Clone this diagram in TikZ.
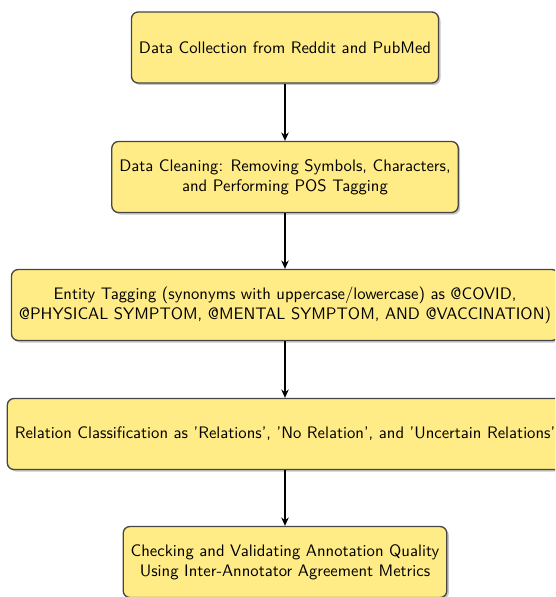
\documentclass[tikz,border=0pt]{standalone}
\usetikzlibrary{shadows,arrows.meta}
\definecolor{boxfill}{RGB}{255,236,134}
\definecolor{boxline}{RGB}{70,70,70}
\begin{document}
\begin{tikzpicture}[x=1pt,y=1pt,
  stepbox/.style={draw=boxline, line width=0.8pt, fill=boxfill, rounded corners=4pt,
    minimum height=42.6pt, align=center, inner xsep=4.5pt, font=\sffamily,
    drop shadow={opacity=0.45, shadow xshift=1.2pt, shadow yshift=-1.2pt}},
  flow/.style={line width=1.1pt, -{Stealth[length=5pt,width=4.5pt]}}]
\useasboundingbox (0,0) rectangle (333,-358.2);
\clip (0,0) rectangle (333,-358.2);
\node[stepbox] (n1) at (171,-28.5) {Data Collection from Reddit and PubMed};
\node[stepbox] (n2) at (171,-106.2) {Data Cleaning: Removing Symbols, Characters,\\ and Performing POS Tagging};
\node[stepbox] (n3) at (171,-183) {Entity Tagging (synonyms with uppercase/lowercase) as @COVID,\\ @PHYSICAL SYMPTOM, @MENTAL SYMPTOM, AND @VACCINATION)};
\node[stepbox] (n4) at (171,-260.4) {Relation Classification as 'Relations', 'No Relation', and 'Uncertain Relations'};
\node[stepbox] (n5) at (171,-337.2) {Checking and Validating Annotation Quality\\ Using Inter-Annotator Agreement Metrics};
\draw[flow] (n1) -- (n2);
\draw[flow] (n2) -- (n3);
\draw[flow] (n3) -- (n4);
\draw[flow] (n4) -- (n5);
\end{tikzpicture}
\end{document}
